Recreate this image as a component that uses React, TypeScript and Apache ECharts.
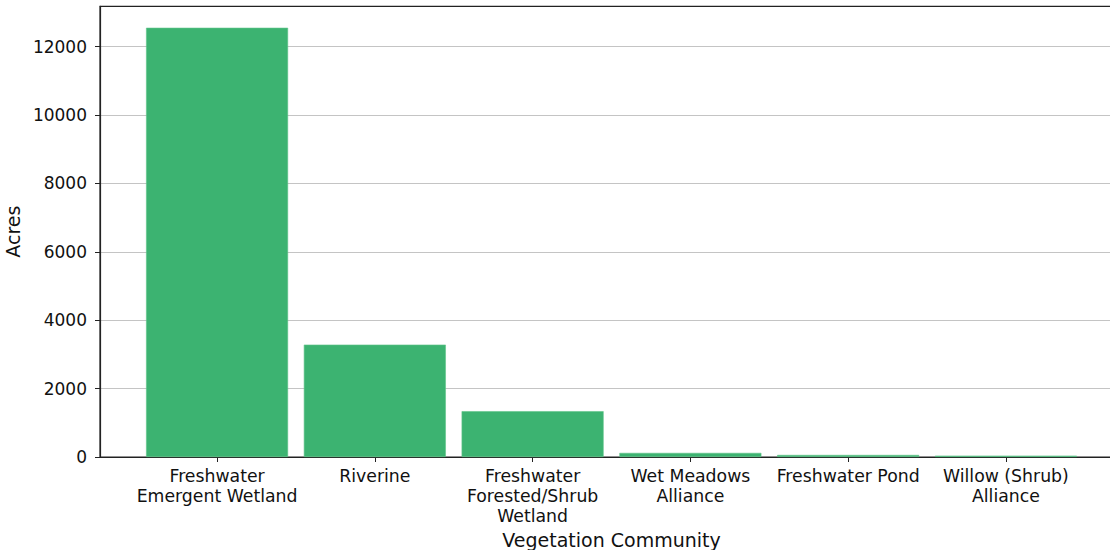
import React, { useEffect, useRef } from "react";
import * as echarts from "echarts";

const categories = [
  "Freshwater\nEmergent Wetland",
  "Riverine",
  "Freshwater\nForested/Shrub\nWetland",
  "Wet Meadows\nAlliance",
  "Freshwater Pond",
  "Willow (Shrub)\nAlliance",
];
const acres = [12550, 3285, 1340, 120, 60, 40];
const yTicks = [0, 2000, 4000, 6000, 8000, 10000, 12000];

export default function App() {
  const ref = useRef<HTMLDivElement>(null);
  useEffect(() => {
    if (!ref.current) return;
    const chart = echarts.init(ref.current, null, { renderer: "svg" });
    const font = "DejaVu Sans";
    const idx = categories.map((_, i) => i);
    const yMax = Math.max(...acres) * 1.05;
    chart.setOption({
      animation: false,
      backgroundColor: "#ffffff",
      grid: {
        left: 100,
        top: 6.3,
        bottom: 550 - 457,
        right: -13,
        outerBoundsMode: "none",
        containLabel: false,
        show: true,
        borderColor: "#222",
        borderWidth: 1.2,
        backgroundColor: "transparent",
      },
      xAxis: {
        type: "value",
        min: -0.742,
        max: categories.length - 1 + 0.742,
        name: "Vegetation Community",
        nameLocation: "middle",
        nameGap: 70,
        nameTextStyle: { fontFamily: font, fontSize: 19, color: "#111" },
        axisLine: { show: true, onZero: false, lineStyle: { color: "#222", width: 1.2 } },
        axisTick: {
          show: true,
          customValues: idx,
          length: 5,
          lineStyle: { color: "#222", width: 1 },
        },
        axisLabel: {
          customValues: idx,
          formatter: (v: number) => categories[Math.round(v)] ?? "",
          fontFamily: font,
          fontSize: 17.3,
          lineHeight: 20,
          color: "#111",
          margin: 9,
        },
        splitLine: { show: false },
      },
      yAxis: {
        type: "value",
        min: 0,
        max: yMax,
        interval: 2000,
        name: "Acres",
        nameLocation: "middle",
        nameGap: 73,
        nameTextStyle: { fontFamily: font, fontSize: 19, color: "#111" },
        axisLine: { show: true, onZero: false, lineStyle: { color: "#222", width: 1.2 } },
        axisTick: {
          show: true,
          customValues: yTicks,
          length: 5,
          lineStyle: { color: "#222", width: 1 },
        },
        axisLabel: {
          customValues: yTicks,
          formatter: (v: number) => String(v),
          fontFamily: font,
          fontSize: 17,
          color: "#111",
          margin: 13,
        },
        splitLine: { show: true, lineStyle: { color: "#c4c4c4", width: 1 } },
      },
      series: [
        {
          type: "bar",
          data: acres.map((v, i) => [i, v]),
          barWidth: 142,
          itemStyle: { color: "#3cb371", borderColor: "#5fc48a", borderWidth: 0.6 },
        },
      ],
    });
    return () => chart.dispose();
  }, []);
  return (
    <div
      ref={ref}
      style={{ position: "absolute", left: 0, top: 0, width: 1110, height: 550 }}
    />
  );
}
